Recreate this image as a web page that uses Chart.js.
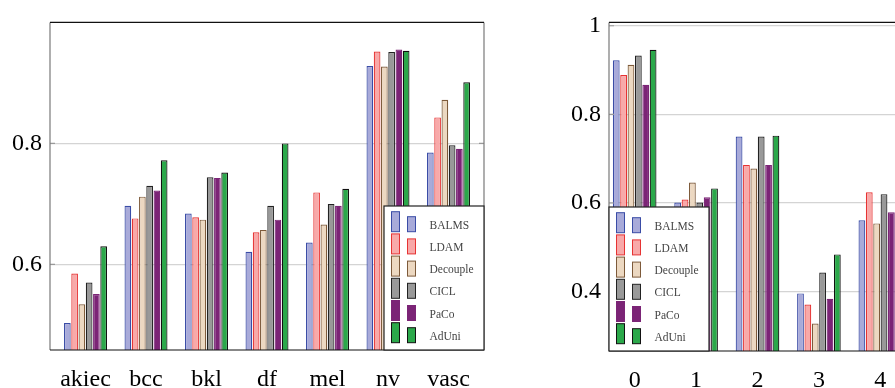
<!DOCTYPE html>
<html>
<head>
<meta charset="utf-8">
<script src="https://cdn.jsdelivr.net/npm/chart.js@4.4.1/dist/chart.umd.min.js"></script>
<style>
  html, body { margin: 0; padding: 0; background: #fff; overflow: hidden; width: 895px; height: 388px; }
  .box { position: absolute; top: 0; height: 388px; }
</style>
</head>
<body>
<div class="box" style="left:0;width:500px"><canvas id="left"></canvas></div>
<div class="box" style="left:560px;width:360px"><canvas id="right"></canvas></div>
<script>
// data
const methods = ['BALMS', 'LDAM', 'Decouple', 'CICL', 'PaCo', 'AdUni'];

const leftCategories = ['akiec', 'bcc', 'bkl', 'df', 'mel', 'nv', 'vasc'];
const leftBALMS    = [0.503, 0.697, 0.684, 0.621, 0.636, 0.928, 0.785];
const leftLDAM     = [0.585, 0.676, 0.678, 0.653, 0.719, 0.952, 0.843];
const leftDecouple = [0.534, 0.712, 0.674, 0.657, 0.666, 0.927, 0.872];
const leftCICL     = [0.570, 0.730, 0.744, 0.697, 0.700, 0.951, 0.797];
const leftPaCo     = [0.551, 0.722, 0.743, 0.674, 0.697, 0.955, 0.791];
const leftAdUni    = [0.630, 0.772, 0.752, 0.800, 0.725, 0.953, 0.901];
const leftTicks = [0.6, 0.8];

const rightCategories = ['0', '1', '2', '3', '4'];
const rightBALMS    = [0.922, 0.601, 0.750, 0.396, 0.561];
const rightLDAM     = [0.889, 0.608, 0.686, 0.371, 0.624];
const rightDecouple = [0.912, 0.646, 0.678, 0.328, 0.554];
const rightCICL     = [0.933, 0.601, 0.750, 0.443, 0.620];
const rightPaCo     = [0.867, 0.613, 0.686, 0.384, 0.579];
const rightAdUni    = [0.946, 0.633, 0.752, 0.484, 0.600];
const rightTicks = [0.4, 0.6, 0.8, 1];

// styles
const fills   = ['#a8aad9', '#f8a9a9', '#ecd8c1', '#999999', '#7b2476', '#2ba84a'];
const borders = ['#3a4ca6', '#e63333', '#7d5a3a', '#222222', '#7b2476', '#111111'];
const serif = "'Liberation Serif', 'DejaVu Serif', serif";

function makeDatasets(series) {
  return series.map((vals, k) => ({
    label: methods[k],
    data: vals.map((v, i) => ({ x: i, y: v })),
    backgroundColor: fills[k],
    borderColor: borders[k],
    borderWidth: 1.2,
    borderSkipped: 'start',
    categoryPercentage: 0.72,
    barPercentage: 0.92
  }));
}

// frame + tick marks
const framePlugin = {
  id: 'frame',
  afterDatasetsDraw(chart) {
    const { ctx, chartArea: a } = chart;
    ctx.save();
    ctx.lineWidth = 1.2;
    ctx.strokeStyle = '#999';
    chart.scales.y.ticks.forEach(t => {
      const y = chart.scales.y.getPixelForValue(t.value);
      ctx.beginPath();
      ctx.moveTo(a.left, y); ctx.lineTo(a.left + 5, y);
      ctx.moveTo(a.right, y); ctx.lineTo(a.right - 5, y);
      ctx.stroke();
    });
    ctx.strokeStyle = '#7a7a7a';
    ctx.beginPath();
    ctx.moveTo(a.left, a.top); ctx.lineTo(a.left, a.bottom);
    ctx.moveTo(a.right, a.top); ctx.lineTo(a.right, a.bottom);
    ctx.stroke();
    ctx.strokeStyle = '#111';
    ctx.beginPath();
    ctx.moveTo(a.left, a.top); ctx.lineTo(a.right, a.top);
    ctx.moveTo(a.left, a.bottom); ctx.lineTo(a.right, a.bottom);
    ctx.stroke();
    ctx.restore();
  }
};

// pgfplots-like legend box with two swatches per entry
const legendPlugin = {
  id: 'boxLegend',
  afterDatasetsDraw(chart, args, opts) {
    const { ctx, chartArea: a } = chart;
    const w = 100, h = 144;
    const x0 = opts.side === 'right' ? a.right - w : a.left;
    const y0 = a.bottom - h;
    ctx.save();
    ctx.fillStyle = '#fff';
    ctx.fillRect(x0, y0, w, h);
    ctx.lineWidth = 1.2;
    ctx.strokeStyle = '#222';
    ctx.strokeRect(x0, y0, w, h);
    chart.data.datasets.forEach((ds, i) => {
      const cy = y0 + 19.7 + i * 22.2;
      ctx.fillStyle = ds.backgroundColor;
      ctx.strokeStyle = ds.borderColor;
      ctx.lineWidth = 1;
      ctx.fillRect(x0 + 7.5, cy - 14, 8, 20);
      ctx.strokeRect(x0 + 7.5, cy - 14, 8, 20);
      ctx.fillRect(x0 + 23.5, cy - 9, 8, 15);
      ctx.strokeRect(x0 + 23.5, cy - 9, 8, 15);
      ctx.fillStyle = '#444';
      ctx.font = '11.5px ' + serif;
      ctx.textBaseline = 'middle';
      ctx.fillText(ds.label, x0 + 45.5, cy);
    });
    ctx.restore();
  }
};

function makeChart(id, cats, series, ticks, yMin, yMax, xPad, yWidth, xHeight, padding, side) {
  return new Chart(document.getElementById(id), {
    type: 'bar',
    data: { datasets: makeDatasets(series) },
    options: {
      responsive: true,
      maintainAspectRatio: false,
      animation: false,
      layout: { padding: padding },
      plugins: {
        legend: { display: false },
        tooltip: { enabled: false },
        boxLegend: { side: side }
      },
      scales: {
        x: {
          type: 'linear',
          offset: false,
          min: -xPad,
          max: cats.length - 1 + xPad,
          afterBuildTicks: s => { s.ticks = cats.map((c, i) => ({ value: i })); },
          afterFit: s => { s.height = xHeight; },
          grid: { display: false, drawTicks: false, offset: false },
          border: { display: false },
          ticks: {
            autoSkip: false,
            maxRotation: 0,
            padding: 15,
            color: '#000',
            font: { family: serif, size: 24 },
            callback: v => cats[v]
          }
        },
        y: {
          min: yMin,
          max: yMax,
          afterBuildTicks: s => { s.ticks = ticks.map(v => ({ value: v })); },
          afterFit: s => { s.width = yWidth; },
          grid: { color: '#d4d4d4', lineWidth: 1.2, drawTicks: false },
          border: { display: false },
          ticks: {
            padding: 8,
            color: '#000',
            font: { family: serif, size: 24 },
            callback: v => String(v)
          }
        }
      }
    },
    plugins: [framePlugin, legendPlugin]
  });
}

makeChart('left', leftCategories,
  [leftBALMS, leftLDAM, leftDecouple, leftCICL, leftPaCo, leftAdUni],
  leftTicks, 0.4585, 1.0, 0.587, 50, 38, { top: 16, right: 16, left: 0, bottom: 0 }, 'right');

makeChart('right', rightCategories,
  [rightBALMS, rightLDAM, rightDecouple, rightCICL, rightPaCo, rightAdUni],
  rightTicks, 0.266, 1.0076, 0.418, 49, 37, { top: 17, right: 14, left: 0, bottom: 0 }, 'left');
</script>
</body>
</html>
